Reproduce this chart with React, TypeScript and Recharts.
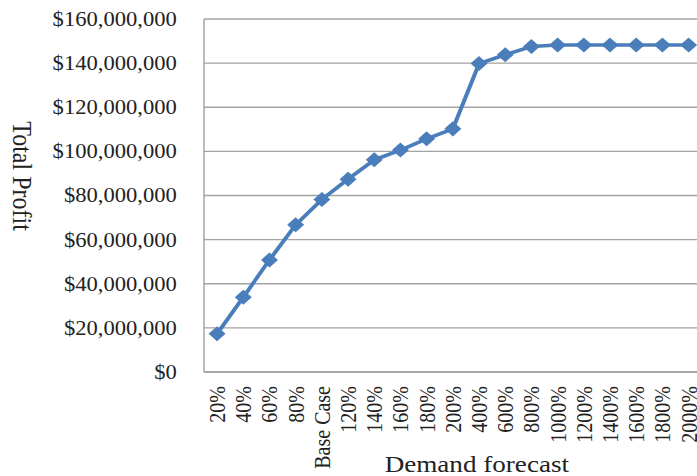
import React from "react";
import { LineChart, Line, XAxis, YAxis, CartesianGrid } from "recharts";

const categories = [
  "20%", "40%", "60%", "80%", "Base Case", "120%", "140%", "160%", "180%", "200%",
  "400%", "600%", "800%", "1000%", "1200%", "1400%", "1600%", "1800%", "2000%",
];

const totalProfit = [
  17.3e6, 33.9e6, 50.8e6, 66.7e6, 78.2e6, 87.4e6, 96.2e6, 100.6e6, 105.7e6, 110.2e6,
  139.8e6, 143.8e6, 147.5e6, 148.2e6, 148.2e6, 148.2e6, 148.2e6, 148.2e6, 148.2e6,
];

const yTicks = [0, 20e6, 40e6, 60e6, 80e6, 100e6, 120e6, 140e6, 160e6];

const data = categories.map((c, i) => ({ name: c, profit: totalProfit[i] }));

const FONT = "'Liberation Serif', 'Times New Roman', serif";
const TEXT = "#222";
const BLUE = "#4a7ebb";
const GRID = "#a3a3a3";

const fmtMoney = (v: number) => "$" + v.toLocaleString("en-US");

function XTick(props: any) {
  const { x, y, payload } = props;
  const ty = y + 14;
  return (
    <text
      x={x}
      y={ty}
      dy="0.35em"
      transform={`rotate(-90, ${x}, ${ty})`}
      textAnchor="end"
      fontFamily={FONT}
      fontSize={20}
      fill={TEXT}
    >
      {payload.value}
    </text>
  );
}

function YTick(props: any) {
  const { x, y, payload } = props;
  return (
    <text
      x={x}
      y={y}
      dy="0.35em"
      textAnchor="end"
      fontFamily={FONT}
      fontSize={20}
      fill={TEXT}
    >
      {fmtMoney(payload.value)}
    </text>
  );
}

function Diamond(props: any) {
  const { cx, cy } = props;
  if (cx == null || cy == null) return null;
  const r = 6.8;
  return (
    <path
      d={`M${cx},${cy - r}L${cx + r},${cy}L${cx},${cy + r}L${cx - r},${cy}Z`}
      fill={BLUE}
      stroke={BLUE}
      strokeWidth={1}
    />
  );
}

export default function App() {
  return (
    <div
      style={{
        position: "absolute",
        left: 0,
        top: 0,
        width: 697,
        height: 476,
        overflow: "hidden",
        background: "#fff",
      }}
    >
      <div style={{ width: 630, height: 476, transform: "scaleX(1.13)", transformOrigin: "0 0" }}>
        <LineChart
          width={630}
          height={476}
          data={data}
          margin={{ top: 19, right: 9, bottom: 0, left: 0 }}
        >
          <CartesianGrid vertical={false} stroke={GRID} strokeWidth={1.3} />
          <XAxis
            dataKey="name"
            interval={0}
            height={104}
            padding={{ left: 11.6, right: 11.6 }}
            tickLine={false}
            tickSize={0}
            tickMargin={0}
            stroke={GRID}
            strokeWidth={1.3}
            tick={<XTick />}
            label={{
              content: () => (
                <text
                  x={422}
                  y={472}
                  textAnchor="middle"
                  fontFamily={FONT}
                  fontSize={24}
                  fill={TEXT}
                >
                  Demand forecast
                </text>
              ),
            }}
          />
          <YAxis
            domain={[0, 160e6]}
            ticks={yTicks}
            width={180.5}
            tickLine={false}
            tickSize={0}
            tickMargin={24}
            stroke={GRID}
            strokeWidth={1.3}
            tick={<YTick />}
            label={{
              content: () => (
                <text
                  x={19.5}
                  y={176}
                  transform="rotate(90, 19.5, 176)"
                  textAnchor="middle"
                  dominantBaseline="central"
                  fontFamily={FONT}
                  fontSize={24}
                  fill={TEXT}
                >
                  Total Profit
                </text>
              ),
            }}
          />
          <Line
            type="linear"
            dataKey="profit"
            stroke={BLUE}
            strokeWidth={3.6}
            dot={<Diamond />}
            activeDot={false}
            isAnimationActive={false}
          />
        </LineChart>
      </div>
    </div>
  );
}
